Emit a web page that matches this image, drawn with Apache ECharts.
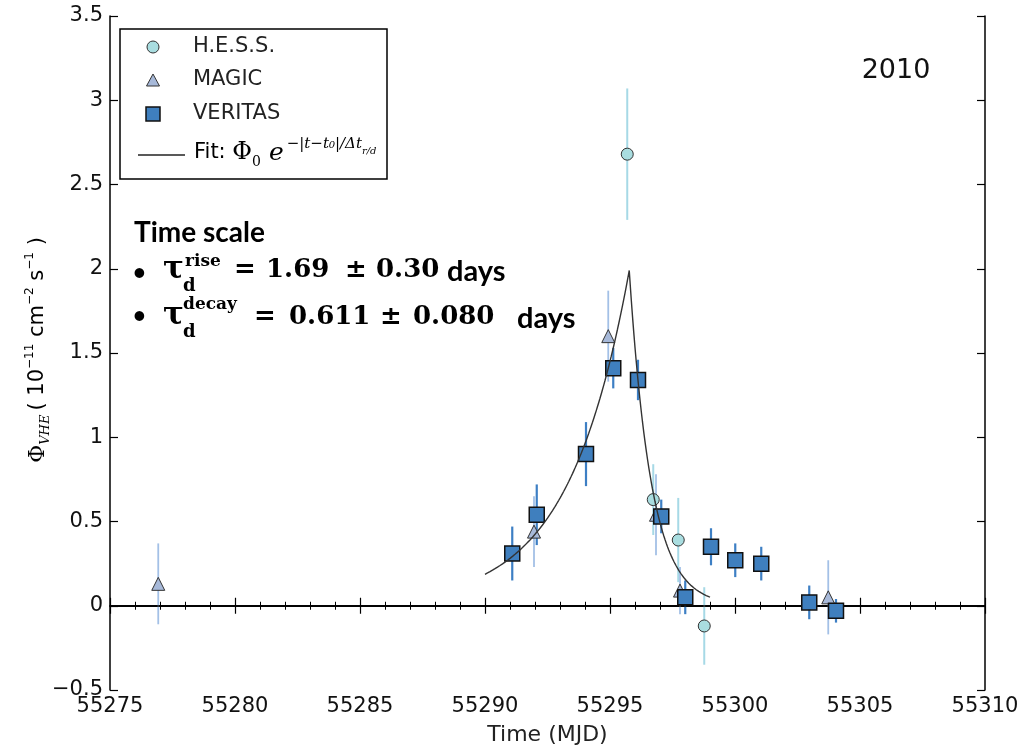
<!DOCTYPE html>
<html>
<head>
<meta charset="utf-8">
<script src="https://cdn.jsdelivr.net/npm/echarts@6/dist/echarts.min.js"></script>
<style>
  html, body { margin: 0; padding: 0; background: #fff; }
  #chart { width: 1034px; height: 751px; }
</style>
</head>
<body>
<div id="chart"></div>
<script>
// ---- Light-curve measurements (MJD, flux in 1e-11 cm^-2 s^-1, 1-sigma error) ----
const hessTime = [55295.69, 55296.73, 55297.73, 55298.77];
const hessFlux = [2.68, 0.63, 0.39, -0.12];
const hessErr  = [0.39, 0.21, 0.25, 0.23];

const magicTime = [55276.93, 55291.96, 55294.93, 55296.84, 55297.80, 55303.73];
const magicFlux = [0.13, 0.44, 1.60, 0.54, 0.09, 0.05];
const magicErr  = [0.24, 0.21, 0.27, 0.24, 0.14, 0.22];

const veritasTime = [55291.09, 55292.07, 55294.04, 55295.13, 55296.12, 55297.05,
                     55298.01, 55299.04, 55300.01, 55301.05, 55302.97, 55304.04];
const veritasFlux = [0.31, 0.54, 0.90, 1.41, 1.34, 0.53, 0.05, 0.35, 0.27, 0.25, 0.02, -0.03];
const veritasErr  = [0.16, 0.18, 0.19, 0.12, 0.12, 0.10, 0.10, 0.11, 0.10, 0.10, 0.10, 0.07];

// ---- Flare fit: Phi0 * exp(-|t - t0| / dt), dt = doubling time / ln 2 ----
const fitPhi0 = 1.99;
const fitT0 = 55295.77;
const tauRise = 1.69;    // days (doubling time)
const tauDecay = 0.611;  // days (doubling time)
const fitStart = 55290.0;
const fitEnd = 55299.0;

// ---- Axis ticks ----
const xTicks = { min: 55275, max: 55310, step: 5 };
const yTicks = { min: -0.5, max: 3.5, step: 0.5 };

const fitCurve = (() => {
  const pts = [];
  const dtR = tauRise / Math.LN2, dtD = tauDecay / Math.LN2;
  const n = 180;
  for (let i = 0; i <= n; i++) {
    pts.push(fitStart + (fitEnd - fitStart) * i / n);
  }
  pts.push(fitT0);
  pts.sort((a, b) => a - b);
  return pts.map(t => [t, fitPhi0 * Math.exp(-Math.abs(t - fitT0) / (t < fitT0 ? dtR : dtD))]);
})();

const COL = {
  hessFill: '#a9dde0', hessBar: '#a6d9e6',
  magicFill: '#a7b9d9', magicBar: '#a3c0e6',
  verFill: '#3f7fbe', verBar: '#3d7fc4'
};

function errorBars(t, v, e, color, width, z) {
  return {
    type: 'custom', silent: true, z: z,
    data: t.map((x, i) => [x, v[i] - e[i], v[i] + e[i]]),
    encode: { x: 0, y: [1, 2] },
    renderItem: (params, api) => {
      const lo = api.coord([api.value(0), api.value(1)]);
      const hi = api.coord([api.value(0), api.value(2)]);
      return {
        type: 'line',
        shape: { x1: lo[0], y1: lo[1], x2: hi[0], y2: hi[1] },
        style: { stroke: color, lineWidth: width }
      };
    }
  };
}

const SANS = 'DejaVu Sans';
const SERIF = 'DejaVu Serif';
const tickLabel = { color: '#111', fontFamily: SANS, fontSize: 21 };

// Small helper for free-standing text pieces
function txt(text, x, y, o) {
  o = o || {};
  const st = {
    text: text, x: x, y: y,
    fill: o.fill || '#000',
    fontFamily: o.family || SANS,
    fontSize: o.size || 20,
    fontWeight: o.weight || 'normal',
    fontStyle: o.style || 'normal',
    align: o.align || 'left', textAlign: o.align || 'left',
    verticalAlign: 'middle', textVerticalAlign: 'middle'
  };
  if (o.rich) st.rich = o.rich;
  return { type: 'text', z: 100, silent: true, style: st };
}

// Legend box and entries
const legendEls = [
  { type: 'rect', z: 90, silent: true, shape: { x: 120, y: 29, width: 267, height: 150 },
    style: { fill: '#fff', stroke: '#000', lineWidth: 1.5 } },
  { type: 'circle', z: 95, silent: true, shape: { cx: 153, cy: 47, r: 6 },
    style: { fill: COL.hessFill, stroke: '#333', lineWidth: 1 } },
  { type: 'polygon', z: 95, silent: true, shape: { points: [[153, 74], [159.5, 86], [146.5, 86]] },
    style: { fill: COL.magicFill, stroke: '#333', lineWidth: 1 } },
  { type: 'rect', z: 95, silent: true, shape: { x: 146, y: 107, width: 14, height: 14 },
    style: { fill: COL.verFill, stroke: '#111', lineWidth: 1.5 } },
  { type: 'line', z: 95, silent: true, shape: { x1: 138, y1: 155, x2: 185, y2: 155 },
    style: { stroke: '#222', lineWidth: 1.5 } },
  txt('H.E.S.S.', 193, 47, { size: 21, fill: '#222' }),
  txt('MAGIC', 193, 80, { size: 21, fill: '#222' }),
  txt('VERITAS', 193, 114, { size: 21, fill: '#222' }),
  txt('{f|Fit: }{p|Φ}{s|0}{e| e}{u|−|t−t₀|/Δt}{v|r/d}', 194, 153, {
    rich: {
      f: { fontFamily: SANS, fontSize: 21, color: '#444', lineHeight: 32 },
      p: { fontFamily: SERIF, fontSize: 24, color: '#555', lineHeight: 32 },
      s: { fontFamily: SERIF, fontSize: 14, color: '#555', verticalAlign: 'bottom', lineHeight: 15 },
      e: { fontFamily: SERIF, fontStyle: 'italic', fontSize: 25, color: '#555', lineHeight: 32, padding: [0, 3, 0, 0] },
      u: { fontFamily: SERIF, fontStyle: 'italic', fontSize: 15, color: '#888', verticalAlign: 'top', lineHeight: 15 },
      v: { fontFamily: SERIF, fontStyle: 'italic', fontSize: 10, color: '#888', verticalAlign: 'top', lineHeight: 10, padding: [9, 0, 0, 0] }
    }
  })
];

// Time-scale annotation
const LATO = 'Lato';
const MATH = 'DejaVu Serif';
const mb = { family: MATH, weight: 'bold', size: 26 };
const annoEls = [
  txt('Time scale', 134, 233, { family: LATO, weight: 'bold', size: 28 }),
  txt('•', 133, 273, { family: LATO, weight: 'bold', size: 22 }),
  txt('τ', 163, 270, { family: MATH, weight: 'bold', size: 31 }),
  txt('rise', 185, 262, { family: MATH, weight: 'bold', size: 17 }),
  txt('d', 183, 286, { family: MATH, weight: 'bold', size: 18 }),
  txt('=', 234, 270, mb),
  txt('1.69', 266, 270, mb),
  txt('±', 345, 270, mb),
  txt('0.30', 376, 270, mb),
  txt('days', 447, 272, { family: LATO, weight: 'bold', size: 29 }),

  txt('•', 133, 316, { family: LATO, weight: 'bold', size: 22 }),
  txt('τ', 163, 316, { family: MATH, weight: 'bold', size: 31 }),
  txt('decay', 183, 305, { family: MATH, weight: 'bold', size: 17 }),
  txt('d', 183, 332, { family: MATH, weight: 'bold', size: 18 }),
  txt('=', 254, 317, mb),
  txt('0.611', 289, 317, mb),
  txt('±', 380, 317, mb),
  txt('0.080', 413, 317, mb),
  txt('days', 517, 319, { family: LATO, weight: 'bold', size: 29 })
];

// Rotated y-axis title
const yTitle = {
  type: 'group', x: 38, y: 350, rotation: Math.PI / 2, silent: true, z: 100,
  children: [
    txt('{p|Φ}{s|VHE}{n|( 10}{u|−11}{n| cm}{u|−2}{n| s}{u|−1}{n| )}', 0, 0, {
      align: 'center',
      rich: {
        p: { fontFamily: SERIF, fontSize: 22, color: '#777', lineHeight: 28 },
        s: { fontFamily: SERIF, fontStyle: 'italic', fontSize: 13, color: '#777', verticalAlign: 'bottom', lineHeight: 12, padding: [0, 4, 0, 0] },
        n: { fontFamily: SANS, fontSize: 21, color: '#333', lineHeight: 28 },
        u: { fontFamily: SANS, fontSize: 12, color: '#333', verticalAlign: 'top', lineHeight: 12 }
      }
    })
  ]
};

const chart = echarts.init(document.getElementById('chart'), null, { renderer: 'canvas' });

const axisLine = { show: true, lineStyle: { color: '#000', width: 1.5 } };
const tickIn = (len) => ({ show: true, inside: true, length: len, lineStyle: { color: '#000', width: 1.2 } });

chart.setOption({
  backgroundColor: '#fff',
  animation: false,
  grid: { left: 110, right: 49, top: 16, bottom: 57, containLabel: false },
  xAxis: [
    {
      type: 'value', min: xTicks.min, max: xTicks.max, interval: xTicks.step,
      position: 'bottom',
      axisLine: axisLine, axisTick: tickIn(8),
      minorTick: { show: true, splitNumber: 5, length: 4, lineStyle: { color: '#000', width: 1 } },
      splitLine: { show: false },
      axisLabel: Object.assign({ margin: 6, formatter: v => String(v) }, tickLabel),
      name: 'Time (MJD)', nameLocation: 'middle', nameGap: 34,
      nameTextStyle: { color: '#222', fontFamily: SANS, fontSize: 22 }
    },
    {
      type: 'value', min: xTicks.min, max: xTicks.max, interval: xTicks.step,
      position: 'top',
      axisLine: axisLine, axisTick: tickIn(8),
      minorTick: { show: true, splitNumber: 5, length: 4, lineStyle: { color: '#000', width: 1 } },
      splitLine: { show: false }, axisLabel: { show: false }
    }
  ],
  yAxis: [
    {
      type: 'value', min: yTicks.min, max: yTicks.max, interval: yTicks.step,
      position: 'left',
      axisLine: axisLine, axisTick: tickIn(8),
      splitLine: { show: false },
      axisLabel: Object.assign({ margin: 7, formatter: v => String(v).replace('-', '−') }, tickLabel)
    },
    {
      type: 'value', min: yTicks.min, max: yTicks.max, interval: yTicks.step,
      position: 'right',
      axisLine: axisLine, axisTick: tickIn(8),
      splitLine: { show: false }, axisLabel: { show: false }
    }
  ],
  graphic: legendEls.concat(annoEls, [yTitle,
    txt('2010', 896, 71, { size: 27, fill: '#111', align: 'center' })
  ]),
  series: [
    Object.assign(errorBars(hessTime, hessFlux, hessErr, COL.hessBar, 2, 2), {
      markLine: {
        silent: true, symbol: 'none', label: { show: false },
        lineStyle: { color: '#000', width: 1.5, type: 'solid' },
        data: [{ yAxis: 0 }]
      }
    }),
    errorBars(magicTime, magicFlux, magicErr, COL.magicBar, 1.8, 3),
    errorBars(veritasTime, veritasFlux, veritasErr, COL.verBar, 2.2, 4),
    {
      type: 'scatter', name: 'H.E.S.S.', z: 5, symbol: 'circle', symbolSize: 12,
      data: hessTime.map((t, i) => [t, hessFlux[i]]),
      itemStyle: { color: COL.hessFill, borderColor: '#333', borderWidth: 1, opacity: 1 }
    },
    {
      type: 'scatter', name: 'MAGIC', z: 6, symbol: 'triangle', symbolSize: 13,
      data: magicTime.map((t, i) => [t, magicFlux[i]]),
      itemStyle: { color: COL.magicFill, borderColor: '#333', borderWidth: 1, opacity: 1 }
    },
    {
      type: 'scatter', name: 'VERITAS', z: 7, symbol: 'rect', symbolSize: 15,
      data: veritasTime.map((t, i) => [t, veritasFlux[i]]),
      itemStyle: { color: COL.verFill, borderColor: '#111', borderWidth: 1.5, opacity: 1 }
    },
    {
      type: 'line', name: 'Fit', z: 8, showSymbol: false, symbol: 'none', smooth: false,
      data: fitCurve,
      lineStyle: { color: '#333', width: 1.4 }
    }
  ]
});
</script>
</body>
</html>
